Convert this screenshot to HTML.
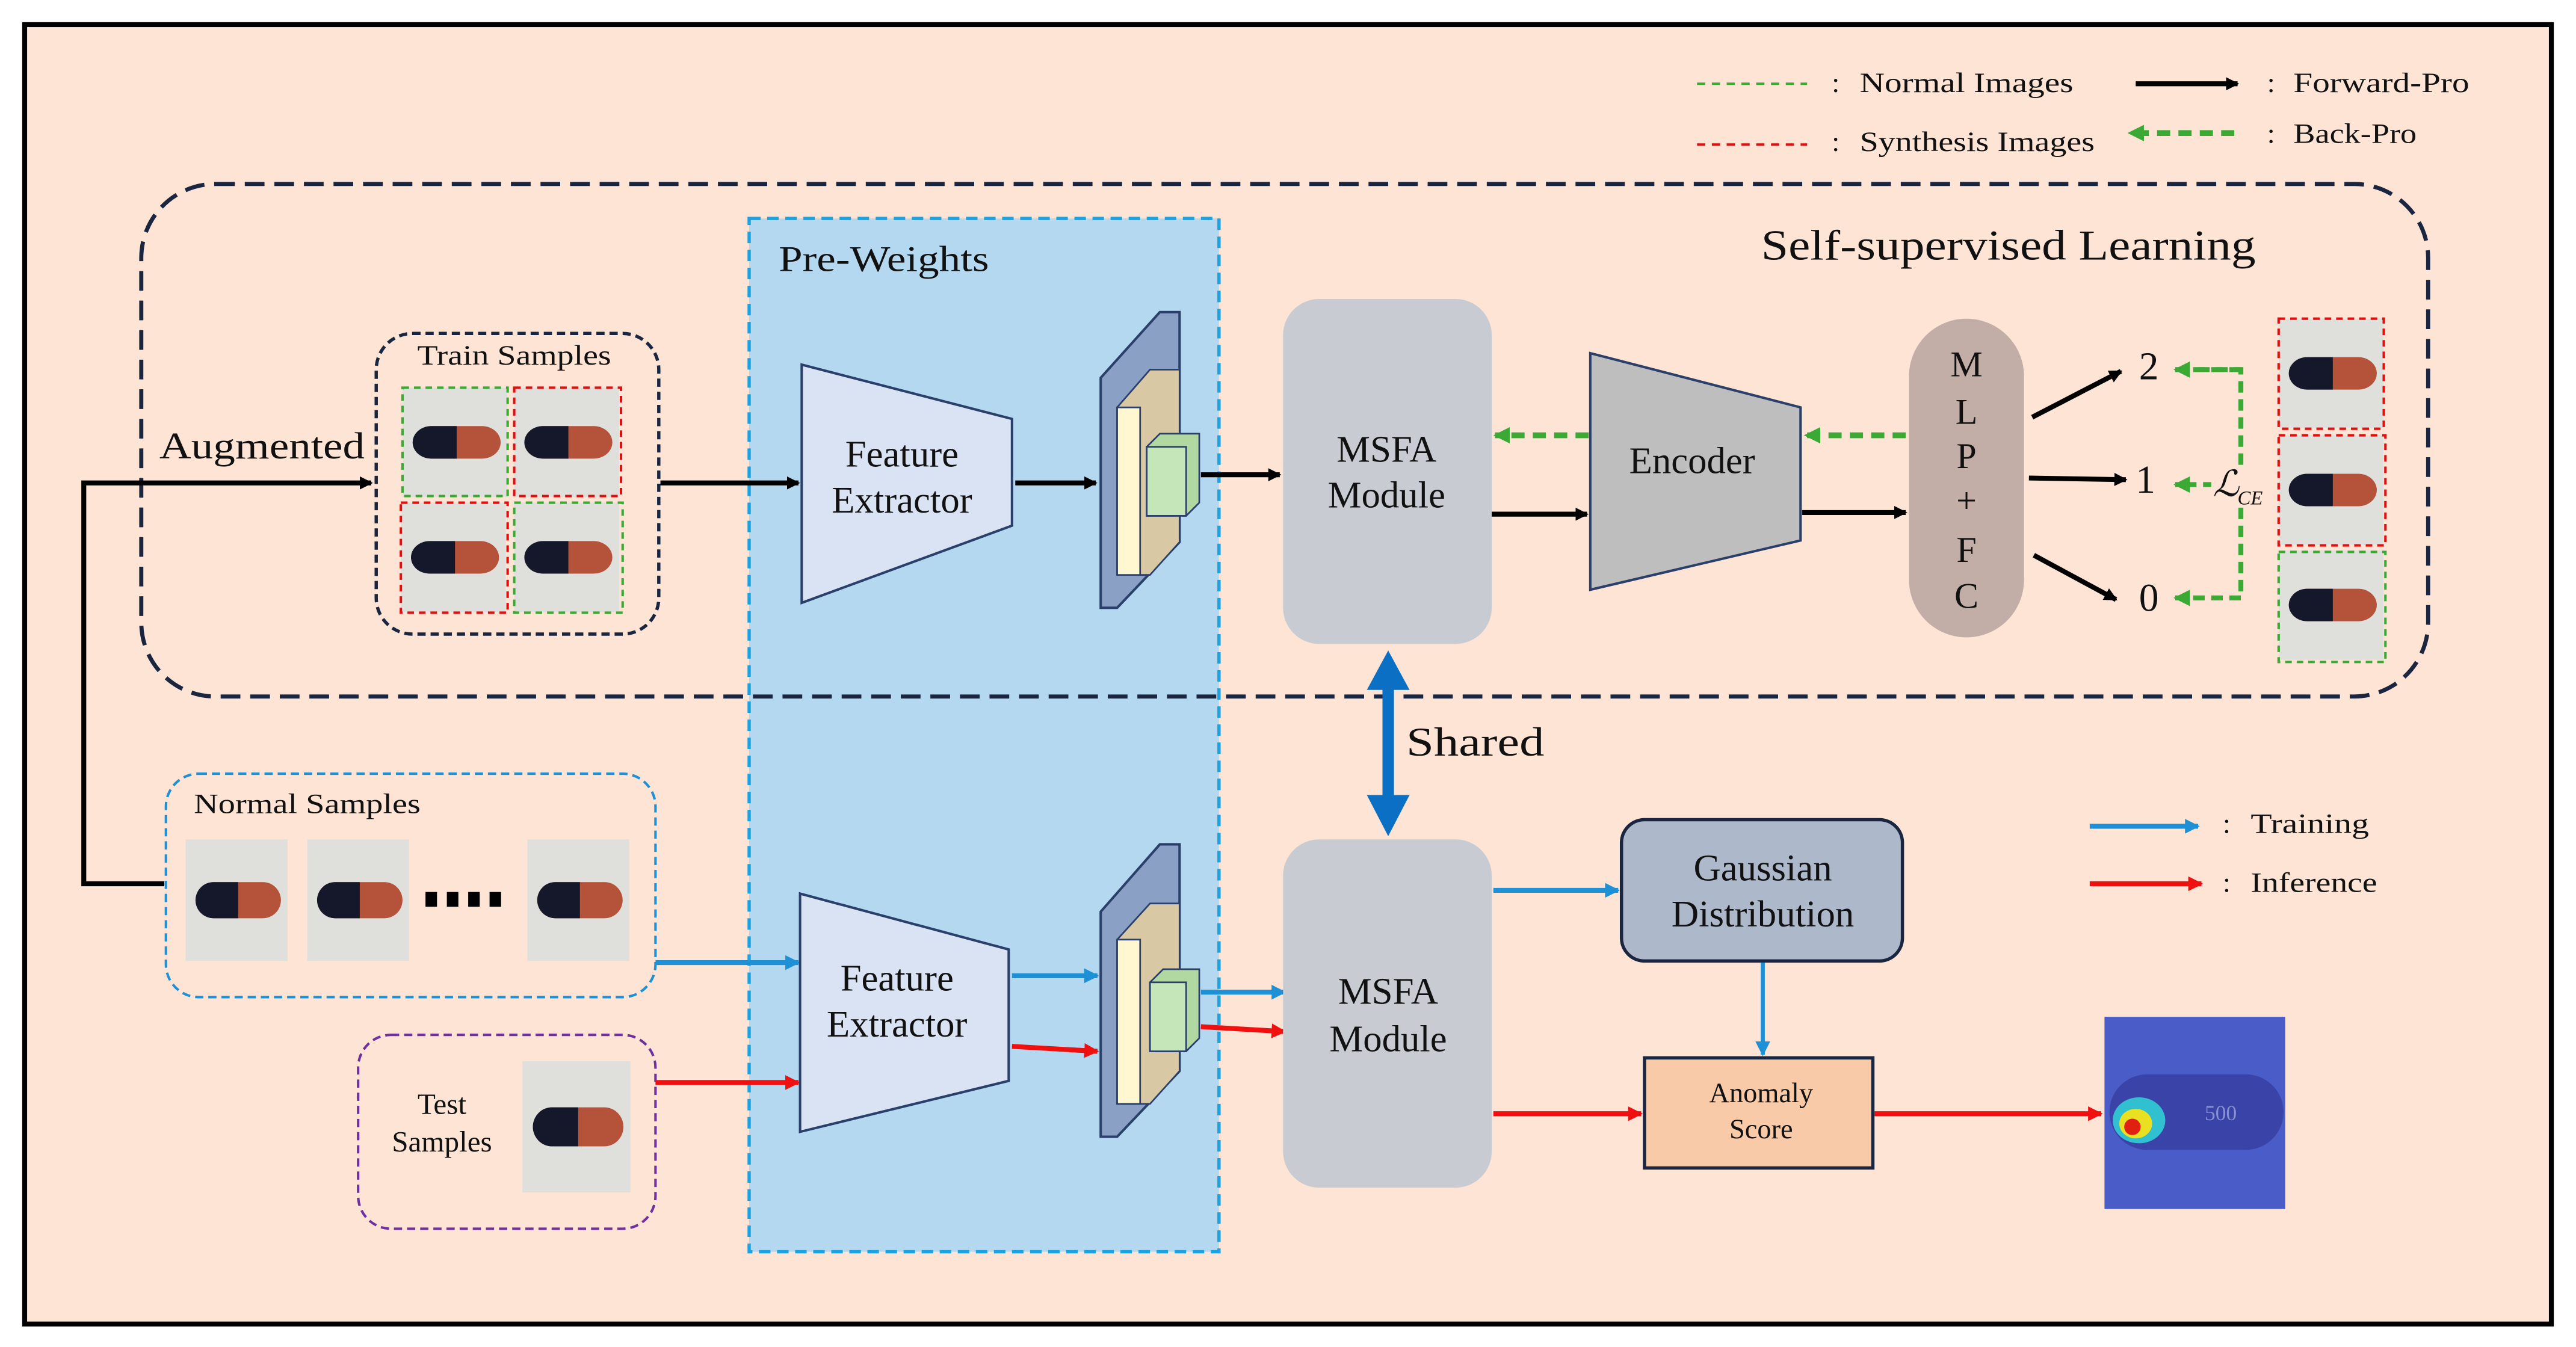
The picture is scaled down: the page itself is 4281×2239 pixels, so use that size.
<!DOCTYPE html>
<html><head><meta charset="utf-8"><style>
html,body{margin:0;padding:0;background:#fff}
svg{display:block}
text{font-family:"Liberation Serif",serif;fill:#111}
</style></head><body>
<svg width="4281" height="2239" viewBox="0 0 1568 820" preserveAspectRatio="none" xmlns="http://www.w3.org/2000/svg">
<defs>
<marker id="ab" markerWidth="8" markerHeight="8" refX="7" refY="4" orient="auto" markerUnits="userSpaceOnUse"><path d="M0,0 L8,4 L0,8 z" fill="#000"/></marker>
<marker id="ag" markerWidth="10" markerHeight="10" refX="9" refY="5" orient="auto" markerUnits="userSpaceOnUse"><path d="M0,0 L10,5 L0,10 z" fill="#3aaa35"/></marker>
<marker id="al" markerWidth="9" markerHeight="9" refX="8" refY="4.5" orient="auto" markerUnits="userSpaceOnUse"><path d="M0,0 L9,4.5 L0,9 z" fill="#1e90d6"/></marker>
<marker id="ar" markerWidth="9" markerHeight="9" refX="8" refY="4.5" orient="auto" markerUnits="userSpaceOnUse"><path d="M0,0 L9,4.5 L0,9 z" fill="#f01010"/></marker>
<g id="cap">
<rect x="0" y="0" width="62" height="74" fill="#dfe0dc"/>
<rect x="6" y="26" width="52" height="22" rx="11" fill="#b5523a"/>
<path d="M17,26 H32 V48 H17 A11,11 0 0 1 17,26 z" fill="#15182a"/>
</g>
</defs>
<rect x="15" y="15" width="1538" height="791" fill="#fde4d5" stroke="#000" stroke-width="3"/>
<!-- legend -->
<line x1="1033" y1="51" x2="1100" y2="51" stroke="#3aaa35" stroke-width="1.5" stroke-dasharray="5,4"/>
<text x="1115" y="56" font-size="17">:</text><text x="1132" y="56" font-size="17" textLength="130" lengthAdjust="spacingAndGlyphs">Normal Images</text>
<line x1="1033" y1="88" x2="1100" y2="88" stroke="#e01010" stroke-width="1.5" stroke-dasharray="5,4"/>
<text x="1115" y="92" font-size="17">:</text><text x="1132" y="92" font-size="17" textLength="143" lengthAdjust="spacingAndGlyphs">Synthesis Images</text>
<line x1="1300" y1="51" x2="1362" y2="51" stroke="#000" stroke-width="3" marker-end="url(#ab)"/>
<text x="1380" y="56" font-size="17">:</text><text x="1396" y="56" font-size="17" textLength="107" lengthAdjust="spacingAndGlyphs">Forward-Pro</text>
<line x1="1360" y1="81" x2="1296" y2="81" stroke="#3aaa35" stroke-width="3.5" stroke-dasharray="8,5" marker-end="url(#ag)"/>
<text x="1380" y="87" font-size="17">:</text><text x="1396" y="87" font-size="17" textLength="75" lengthAdjust="spacingAndGlyphs">Back-Pro</text>
<line x1="1272" y1="503" x2="1338" y2="503" stroke="#1e90d6" stroke-width="3" marker-end="url(#al)"/>
<text x="1353" y="507" font-size="17">:</text><text x="1370" y="507" font-size="17" textLength="72" lengthAdjust="spacingAndGlyphs">Training</text>
<line x1="1272" y1="538" x2="1340" y2="538" stroke="#f01010" stroke-width="3" marker-end="url(#ar)"/>
<text x="1353" y="543" font-size="17">:</text><text x="1370" y="543" font-size="17" textLength="77" lengthAdjust="spacingAndGlyphs">Inference</text>
<!-- pre-weights -->
<rect x="456" y="133" width="286" height="629" fill="#b3d8ef" stroke="#1aa3e0" stroke-width="2" stroke-dasharray="7,4"/>
<text x="474" y="165" font-size="22" textLength="128" lengthAdjust="spacingAndGlyphs">Pre-Weights</text>
<!-- self supervised box -->
<rect x="86" y="112" width="1392" height="312" rx="45" fill="none" stroke="#1a2540" stroke-width="2.5" stroke-dasharray="12,6"/>
<text x="1072" y="158" font-size="26" textLength="301" lengthAdjust="spacingAndGlyphs">Self-supervised Learning</text>
<!-- train samples -->
<rect x="229" y="203" width="172" height="183" rx="22" fill="none" stroke="#1a2540" stroke-width="2" stroke-dasharray="5,3"/>
<text x="254" y="222" font-size="17" textLength="118" lengthAdjust="spacingAndGlyphs">Train Samples</text>
<use href="#cap" transform="translate(245,236) scale(1.03,0.9)"/>
<use href="#cap" transform="translate(313,236) scale(1.03,0.9)"/>
<use href="#cap" transform="translate(244,306) scale(1.03,0.9)"/>
<use href="#cap" transform="translate(313,306) scale(1.03,0.9)"/>
<rect x="245" y="236" width="64" height="66" fill="none" stroke="#3aaa35" stroke-width="1.5" stroke-dasharray="4,3"/>
<rect x="313" y="236" width="65" height="66" fill="none" stroke="#e01010" stroke-width="1.5" stroke-dasharray="4,3"/>
<rect x="244" y="306" width="65" height="67" fill="none" stroke="#e01010" stroke-width="1.5" stroke-dasharray="4,3"/>
<rect x="313" y="306" width="66" height="67" fill="none" stroke="#3aaa35" stroke-width="1.5" stroke-dasharray="4,3"/>
<text x="97" y="279" font-size="23" textLength="125" lengthAdjust="spacingAndGlyphs">Augmented</text>
<polyline points="100,538 51,538 51,294 226,294" fill="none" stroke="#000" stroke-width="3" marker-end="url(#ab)"/>
<line x1="402" y1="294" x2="486" y2="294" stroke="#000" stroke-width="3" marker-end="url(#ab)"/>
<!-- feature extractor top -->
<polygon points="488,222 616,255 616,320 488,367" fill="#dae3f3" stroke="#2a3f6a" stroke-width="1.5"/>
<text x="549" y="284" font-size="23" text-anchor="middle">Feature</text>
<text x="549" y="312" font-size="23" text-anchor="middle">Extractor</text>
<line x1="618" y1="294" x2="667" y2="294" stroke="#000" stroke-width="3" marker-end="url(#ab)"/>
<g>
<polygon points="670,230 706,190 718,190 718,330 680,370 670,370" fill="#8aa0c4" stroke="#2a3f6a" stroke-width="1.5"/>
<polygon points="680,248 700,225 718,225 718,330 700,350 680,350" fill="#d8c9a4" stroke="#2a3f6a"/>
<rect x="680" y="248" width="14" height="102" fill="#fff7d0" stroke="#2a3f6a"/>
<polygon points="698,272 706,264 730,264 730,306 722,314 698,314" fill="#b0d8a0" stroke="#2a3f6a"/>
<rect x="698" y="272" width="24" height="42" fill="#c4e6b8" stroke="#2a3f6a"/>
</g>
<line x1="731" y1="289" x2="779" y2="289" stroke="#000" stroke-width="3" marker-end="url(#ab)"/>
<rect x="781" y="182" width="127" height="210" rx="22" fill="#c8ccd2"/>
<text x="844" y="281" font-size="23" text-anchor="middle">MSFA</text>
<text x="844" y="309" font-size="23" text-anchor="middle">Module</text>
<line x1="908" y1="313" x2="966" y2="313" stroke="#000" stroke-width="3" marker-end="url(#ab)"/>
<line x1="967" y1="265" x2="910" y2="265" stroke="#3aaa35" stroke-width="3.5" stroke-dasharray="8,5" marker-end="url(#ag)"/>
<polygon points="968,215 1096,248 1096,329 968,359" fill="#bebebe" stroke="#2a3f6a" stroke-width="1.5"/>
<text x="1030" y="288" font-size="23" text-anchor="middle">Encoder</text>
<line x1="1097" y1="312" x2="1160" y2="312" stroke="#000" stroke-width="3" marker-end="url(#ab)"/>
<line x1="1160" y1="265" x2="1099" y2="265" stroke="#3aaa35" stroke-width="3.5" stroke-dasharray="8,5" marker-end="url(#ag)"/>
<rect x="1162" y="194" width="70" height="194" rx="35" fill="#c2aea6"/>
<g font-size="22" text-anchor="middle">
<text x="1197" y="229">M</text><text x="1197" y="258">L</text><text x="1197" y="285">P</text><text x="1197" y="312">+</text><text x="1197" y="342">F</text><text x="1197" y="370">C</text>
</g>
<line x1="1237" y1="254" x2="1291" y2="226" stroke="#000" stroke-width="3" marker-end="url(#ab)"/>
<line x1="1235" y1="291" x2="1294" y2="292" stroke="#000" stroke-width="3" marker-end="url(#ab)"/>
<line x1="1238" y1="338" x2="1288" y2="365" stroke="#000" stroke-width="3" marker-end="url(#ab)"/>
<g font-size="24"><text x="1302" y="231">2</text><text x="1300" y="300">1</text><text x="1302" y="372">0</text></g>
<polyline points="1338,225 1364,225 1364,364 1324,364" fill="none" stroke="#3aaa35" stroke-width="3" stroke-dasharray="7,4" marker-end="url(#ag)"/>
<line x1="1364" y1="225" x2="1324" y2="225" stroke="#3aaa35" stroke-width="3" stroke-dasharray="7,4" marker-end="url(#ag)"/>
<line x1="1348" y1="295" x2="1324" y2="295" stroke="#3aaa35" stroke-width="3" stroke-dasharray="7,4" marker-end="url(#ag)"/>
<rect x="1346" y="283" width="36" height="26" fill="#fde4d5"/>
<text x="1347" y="302" font-size="22" font-style="italic">ℒ</text><text x="1362" y="307" font-size="12" font-style="italic">CE</text>
<use href="#cap" transform="translate(1387,194) scale(1.03,0.9)"/>
<use href="#cap" transform="translate(1387,265) scale(1.03,0.9)"/>
<use href="#cap" transform="translate(1387,335) scale(1.03,0.9)"/>
<rect x="1387" y="194" width="64" height="67" fill="none" stroke="#e01010" stroke-width="1.5" stroke-dasharray="4,3"/>
<rect x="1387" y="265" width="65" height="67" fill="none" stroke="#e01010" stroke-width="1.5" stroke-dasharray="4,3"/>
<rect x="1387" y="336" width="65" height="67" fill="none" stroke="#3aaa35" stroke-width="1.5" stroke-dasharray="4,3"/>
<!-- shared -->
<line x1="845" y1="412" x2="845" y2="490" stroke="#0b6fc4" stroke-width="7"/>
<polygon points="832,420 845,396 858,420" fill="#0b6fc4"/>
<polygon points="832,484 845,509 858,484" fill="#0b6fc4"/>
<text x="856" y="460" font-size="25" textLength="84" lengthAdjust="spacingAndGlyphs">Shared</text>
<!-- normal samples -->
<rect x="101" y="471" width="298" height="136" rx="20" fill="none" stroke="#1e90d6" stroke-width="1.5" stroke-dasharray="5,3"/>
<text x="118" y="495" font-size="17" textLength="138" lengthAdjust="spacingAndGlyphs">Normal Samples</text>
<use href="#cap" transform="translate(113,511)"/>
<use href="#cap" transform="translate(187,511)"/>
<use href="#cap" transform="translate(321,511)"/>
<g fill="#000"><rect x="259" y="543" width="7" height="9"/><rect x="272" y="543" width="7" height="9"/><rect x="285" y="543" width="7" height="9"/><rect x="298" y="543" width="7" height="9"/></g>
<rect x="218" y="630" width="181" height="118" rx="20" fill="none" stroke="#7030a0" stroke-width="1.5" stroke-dasharray="5,3"/>
<text x="269" y="678" font-size="18" text-anchor="middle">Test</text>
<text x="269" y="701" font-size="18" text-anchor="middle">Samples</text>
<use href="#cap" transform="translate(318,646) scale(1.06,1.08)"/>
<line x1="399" y1="586" x2="486" y2="586" stroke="#1e90d6" stroke-width="3" marker-end="url(#al)"/>
<line x1="399" y1="659" x2="486" y2="659" stroke="#f01010" stroke-width="3" marker-end="url(#ar)"/>
<polygon points="487,544 614,578 614,658 487,689" fill="#dae3f3" stroke="#2a3f6a" stroke-width="1.5"/>
<text x="546" y="603" font-size="23" text-anchor="middle">Feature</text>
<text x="546" y="631" font-size="23" text-anchor="middle">Extractor</text>
<line x1="616" y1="594" x2="668" y2="594" stroke="#1e90d6" stroke-width="3" marker-end="url(#al)"/>
<line x1="616" y1="637" x2="668" y2="640" stroke="#f01010" stroke-width="3" marker-end="url(#ar)"/>
<g>
<polygon points="670,555 706,514 718,514 718,652 680,692 670,692" fill="#8aa0c4" stroke="#2a3f6a" stroke-width="1.5"/>
<polygon points="680,572 700,550 718,550 718,652 700,672 680,672" fill="#d8c9a4" stroke="#2a3f6a"/>
<rect x="680" y="572" width="14" height="100" fill="#fff7d0" stroke="#2a3f6a"/>
<polygon points="700,598 708,590 730,590 730,632 722,640 700,640" fill="#b0d8a0" stroke="#2a3f6a"/>
<rect x="700" y="598" width="22" height="42" fill="#c4e6b8" stroke="#2a3f6a"/>
</g>
<line x1="731" y1="604" x2="782" y2="604" stroke="#1e90d6" stroke-width="3" marker-end="url(#al)"/>
<line x1="731" y1="625" x2="782" y2="628" stroke="#f01010" stroke-width="3" marker-end="url(#ar)"/>
<rect x="781" y="511" width="127" height="212" rx="22" fill="#c8ccd2"/>
<text x="845" y="611" font-size="23" text-anchor="middle">MSFA</text>
<text x="845" y="640" font-size="23" text-anchor="middle">Module</text>
<line x1="909" y1="542" x2="985" y2="542" stroke="#1e90d6" stroke-width="3" marker-end="url(#al)"/>
<rect x="987" y="499" width="171" height="86" rx="14" fill="#adb9ca" stroke="#1a2540" stroke-width="2"/>
<text x="1073" y="536" font-size="23" text-anchor="middle">Gaussian</text>
<text x="1073" y="564" font-size="23" text-anchor="middle">Distribution</text>
<line x1="1073" y1="586" x2="1073" y2="642" stroke="#1e90d6" stroke-width="2.5" marker-end="url(#al)"/>
<line x1="909" y1="678" x2="999" y2="678" stroke="#f01010" stroke-width="3" marker-end="url(#ar)"/>
<rect x="1001" y="644" width="139" height="67" fill="#f9caa8" stroke="#1a2540" stroke-width="2"/>
<text x="1072" y="671" font-size="17" text-anchor="middle">Anomaly</text>
<text x="1072" y="693" font-size="17" text-anchor="middle">Score</text>
<line x1="1141" y1="678" x2="1279" y2="678" stroke="#f01010" stroke-width="3" marker-end="url(#ar)"/>
<rect x="1281" y="619" width="110" height="117" fill="#4a5cc8"/>
<rect x="1284" y="654" width="106" height="46" rx="23" fill="#3a44a8"/>
<ellipse cx="1302" cy="682" rx="16" ry="14" fill="#30c0d0"/>
<ellipse cx="1300" cy="684" rx="10" ry="9" fill="#e8e020"/>
<ellipse cx="1298" cy="686" rx="5" ry="5" fill="#e02010"/>
<text x="1342" y="682" font-size="13" style="fill:#8890d0">500</text>
</svg>
</body></html>
